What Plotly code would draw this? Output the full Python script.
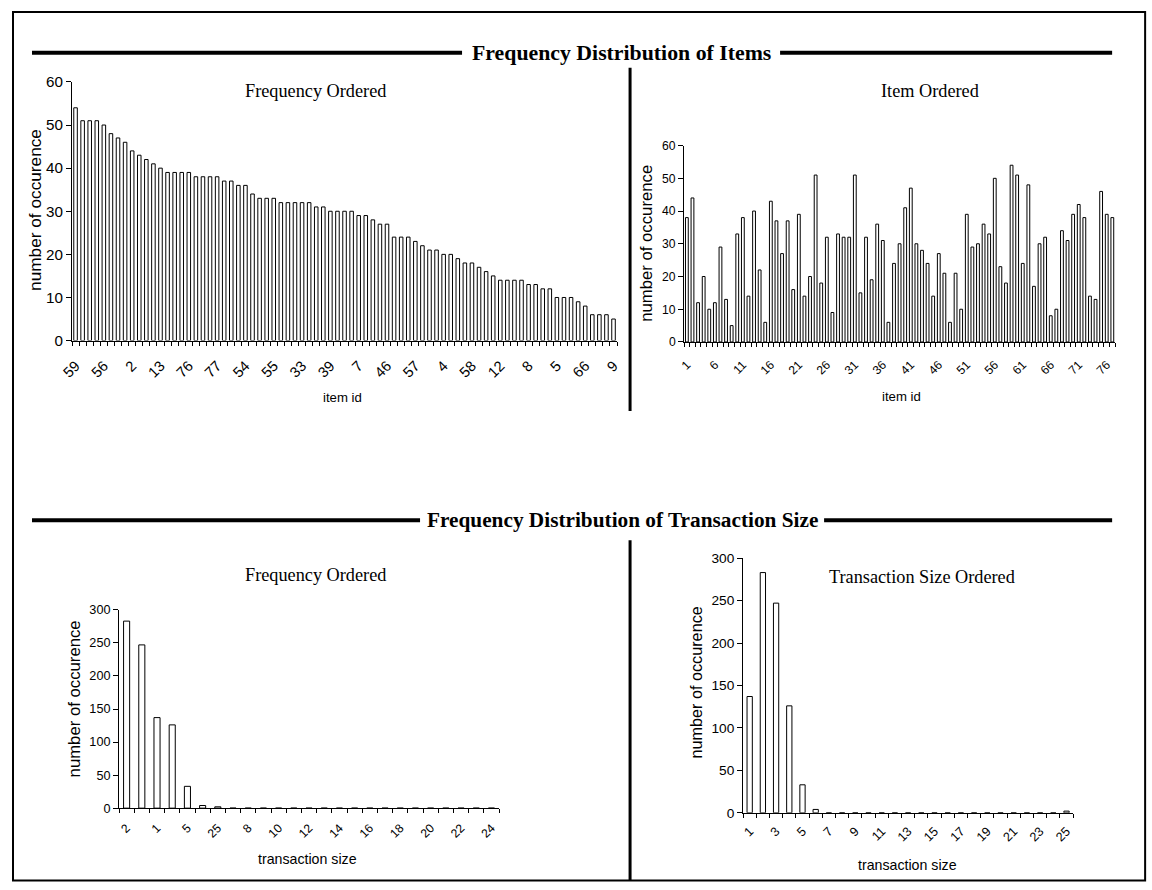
import plotly.graph_objects as go

# ---------------- data ----------------
item_ids = list(range(1, 78))
item_counts = [38, 44, 12, 20, 10, 12, 29, 13, 5, 33,
               38, 14, 40, 22, 6, 43, 37, 27, 37, 16,
               39, 14, 20, 51, 18, 32, 9, 33, 32, 32,
               51, 15, 32, 19, 36, 31, 6, 24, 30, 41,
               47, 30, 28, 24, 14, 27, 21, 6, 21, 10,
               39, 29, 30, 36, 33, 50, 23, 18, 54, 51,
               24, 48, 17, 30, 32, 8, 10, 34, 31, 39,
               42, 38, 14, 13, 46, 39, 38]

size_ids = list(range(1, 26))
size_counts = [137, 283, 247, 126, 33, 4, 0, 0, 0, 0,
               0, 0, 0, 0, 0, 0, 0, 0, 0, 0,
               0, 0, 0, 0, 2]

# frequency-ordered versions (descending count, ties by id)
item_order = sorted(zip(item_ids, item_counts), key=lambda t: (-t[1], t[0]))
item_ord_ids = [str(i) for i, c in item_order]
item_ord_counts = [c for i, c in item_order]

size_order = sorted(zip(size_ids, size_counts), key=lambda t: (-t[1], t[0]))
size_ord_ids = [str(i) for i, c in size_order]
size_ord_counts = [c for i, c in size_order]

W, H = 1152, 890
# the page is photographed slightly scaled / offset; layout positions below are
# given in target-picture pixels and mapped into figure pixels
OX, OY, S = 10.0, 6.0, 0.986


def px(x):
    return ((x - OX) / S) / W


def py(y):
    return 1 - ((y - OY) / S) / H


def fs(size):
    return size / S


def tfont(size):
    return dict(family="Liberation Sans Narrow, Liberation Sans, Arial", size=fs(size), color="black")


SERIF = "Liberation Serif, Times New Roman, serif"
SANS = "Liberation Sans, Arial, sans-serif"

bar_style = dict(marker=dict(color="white", line=dict(color="black", width=1)), showlegend=False)

fig = go.Figure()

fig.add_trace(go.Bar(x=list(range(len(item_ord_counts))), y=item_ord_counts, width=0.5,
                     xaxis="x", yaxis="y", **bar_style))
fig.add_trace(go.Bar(x=item_ids, y=item_counts, width=0.5,
                     xaxis="x2", yaxis="y2", **bar_style))
fig.add_trace(go.Bar(x=list(range(len(size_ord_counts))), y=size_ord_counts, width=0.4,
                     xaxis="x3", yaxis="y3", **bar_style))
fig.add_trace(go.Bar(x=size_ids, y=size_counts, width=0.4,
                     xaxis="x4", yaxis="y4", **bar_style))


def xax(domain, rng, tickvals, ticktext, anchor, tick0, fsize, standoff):
    return dict(domain=[px(domain[0]), px(domain[1])], range=rng, anchor=anchor,
                tickmode="array", tickvals=tickvals, ticktext=ticktext,
                tickangle=-45, tickfont=tfont(fsize), ticks="", showgrid=False, zeroline=False,
                showline=True, linecolor="black", linewidth=1, ticklabelstandoff=standoff,
                minor=dict(ticks="outside", ticklen=4, tickcolor="black", tick0=tick0, dtick=1,
                           showgrid=False))


def yax(domain, rng, dtick, anchor, fsize):
    return dict(domain=[py(domain[1]), py(domain[0])], range=rng, anchor=anchor,
                dtick=dtick, tickfont=tfont(fsize), ticks="outside", ticklen=5, tickcolor="black",
                showgrid=False, zeroline=False, showline=True, linecolor="black", linewidth=1)


n_items = len(item_ord_counts)
tl_vals = list(range(0, n_items, 4))
tr_vals = list(range(1, 78, 5))
n_sizes = len(size_ord_counts)
bl_vals = list(range(0, n_sizes, 2))
br_vals = list(range(1, 26, 2))

fig.update_layout(
    width=W, height=H, margin=dict(l=0, r=0, t=0, b=0),
    paper_bgcolor="white", plot_bgcolor="white",
    xaxis=xax((70, 615), [-0.5, n_items - 0.5], tl_vals, [item_ord_ids[i] for i in tl_vals],
              "y", -0.5, 14.5, 10),
    yaxis=yax((79.3, 339.3), [0, 60], 10, "x", 15),
    xaxis2=xax((682, 1113), [0.5, 77.5], tr_vals, [str(v) for v in tr_vals], "y2", 0.5, 12, 10),
    yaxis2=yax((143.3, 340.7), [0, 60], 10, "x2", 12),
    xaxis3=xax((117, 497), [-0.5, n_sizes - 0.5], bl_vals, [size_ord_ids[i] for i in bl_vals],
               "y3", -0.5, 12, 7),
    yaxis3=yax((610, 809.3), [0, 300], 50, "x3", 12.5),
    xaxis4=xax((741, 1071), [0.5, 25.5], br_vals, [str(v) for v in br_vals], "y4", 0.5, 12.5, 5),
    yaxis4=yax((558, 814), [0, 300], 50, "x4", 13.5),
)

ann = []


def text(x, y, s, font, size, bold=False, angle=0):
    ann.append(dict(x=px(x), y=py(y), xref="paper", yref="paper", text=("<b>%s</b>" % s) if bold else s,
                    showarrow=False, font=dict(family=font, size=fs(size), color="black"),
                    textangle=angle, xanchor="center", yanchor="middle"))


text(619, 50, "Frequency Distribution of Items", SERIF, 21.5, bold=True)
text(620, 520, "Frequency Distribution of Transaction Size", SERIF, 21, bold=True)
text(313, 88, "Frequency Ordered", SERIF, 18)
text(928, 88, "Item Ordered", SERIF, 18)
text(313, 575, "Frequency Ordered", SERIF, 18)
text(920, 577, "Transaction Size Ordered", SERIF, 18)
text(33, 208, "number of occurence", SANS, 17, angle=-90)
text(645, 242, "number of occurence", SANS, 16.5, angle=-90)
text(72, 700, "number of occurence", SANS, 16.5, angle=-90)
text(694, 683, "number of occurence", SANS, 16, angle=-90)
text(340, 397, "item id", SANS, 13)
text(899, 396, "item id", SANS, 13)
text(305, 860, "transaction size", SANS, 14)
text(905, 866, "transaction size", SANS, 14)
fig.update_layout(annotations=ann)

shapes = []


def line(x0, y0, x1, y1, w):
    shapes.append(dict(type="line", xref="paper", yref="paper", x0=px(x0), y0=py(y0), x1=px(x1), y1=py(y1),
                       line=dict(color="black", width=w)))


line(30, 50, 460, 50, 4)
line(778, 50, 1110, 50, 4)
line(30, 520, 418, 520, 4)
line(822, 520, 1110, 520, 4)
line(628, 65, 628, 410, 3)
line(628, 540, 628, 882, 3)
shapes.append(dict(type="rect", xref="paper", yref="paper", x0=px(11), y0=py(882), x1=px(1143), y1=py(9),
                   line=dict(color="black", width=2)))
fig.update_layout(shapes=shapes)

fig.write_html("out.html", config={"displayModeBar": False},
               post_script="document.body.style.margin='0px';document.body.style.overflow='hidden';")
